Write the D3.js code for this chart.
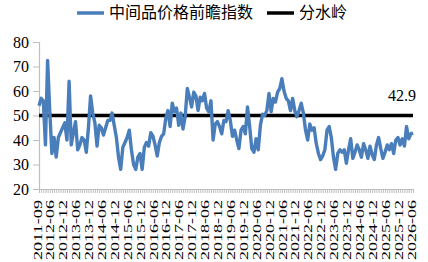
<!DOCTYPE html>
<html>
<head>
<meta charset="utf-8">
<script src="https://cdn.jsdelivr.net/npm/d3@7"></script>
<style>
body{margin:0;background:#fff;}
svg{display:block;}
svg text.tnr{font-family:"Times New Roman","Liberation Serif",Tinos,serif;}
</style>
</head>
<body>
<svg id="chart" width="428" height="262"></svg>
<script>
// categories: first point 2011-09, then monthly from 2012-01 to 2026-06
var months=["2011-09"].concat(d3.timeMonth.range(new Date(2012,0,1),new Date(2026,6,1)).map(d3.timeFormat("%Y-%m")));

var tickLabels=["2011-09","2012-06","2012-12","2013-06","2013-12","2014-06","2014-12","2015-06","2015-12",
 "2016-06","2016-12","2017-06","2017-12","2018-06","2018-12","2019-06","2019-12","2020-06","2020-12",
 "2021-06","2021-12","2022-06","2022-12","2023-06","2023-12","2024-06","2024-12","2025-06","2025-12","2026-06"];

var yTicks=[20,30,40,50,60,70,80];

// 中间品价格前瞻指数
var index=[54,57,56,38,72.5,52,34.5,41,33,41,43,45,47,40,64,38,43,47.5,36,38,
 41,40,35,45,58,51,47,37.5,46,45,42,45,48,48,51,46,41,33,28,37,
 39,41,44,36,30,28,33,34.5,28,37,39,37.5,43,41.6,38,33.5,39,41.5,42.5,49,
 52,45.5,55,51.6,53,46,51,44.5,49.5,61,57.5,53.5,59.5,58,52,57.5,56,59,53,51.5,
 56,40,46.5,47.5,45.5,42.5,48,47.5,52,48,41.5,44,40,36.5,44,45.5,42.5,53.5,45.5,36.5,
 35,40.5,36,46,50.5,50,52,59,51.5,57,55.5,59.5,61,65,60,57,56,52,57,52,
 49.5,52,55,51,44,40,46.5,44,45,38.5,34.5,32,33.5,36,44,45.5,41,33,28,34.5,
 36,35,36,30.5,36,40.5,32.5,35,38,36,33,38.5,36,32.5,37.5,34,32,38,41,36.5,
 32.5,35,38,36,38.5,34.5,40,41,38,40.5,37.5,45.5,40.5,42.5,42.9];

var watershed=50;
var lastLabel="42.9";

var svg=d3.select("#chart");
var plotL=39,plotR=413,plotT=42,plotB=189;

var x=d3.scalePoint().domain(months).range([plotL,plotR]);
var y=d3.scaleLinear().domain([20,80]).range([plotB,plotT]);

var axisColor="#bfbfbf";

// y axis
var ya=svg.append("g").attr("transform","translate("+plotL+",0)")
 .call(d3.axisLeft(y).tickValues(yTicks).tickSize(6).tickPadding(4).tickFormat(d3.format("d")));
ya.attr("font-family",null).attr("font-size",16);
ya.select(".domain").attr("stroke",axisColor).attr("stroke-width",1.2);
ya.selectAll(".tick line").attr("stroke",axisColor);
ya.selectAll("text").classed("tnr",true).attr("fill","#000");

// x axis
var xa=svg.append("g").attr("transform","translate(0,"+plotB+")")
 .call(d3.axisBottom(x).tickSize(4).tickSizeOuter(0).tickFormat(function(d){return tickLabels.indexOf(d)>=0?d:"";}));
xa.attr("font-family",null).attr("font-size",13);
xa.select(".domain").attr("stroke",axisColor).attr("stroke-width",1.2);
xa.selectAll(".tick line").attr("stroke",axisColor);
xa.selectAll("text")
 .classed("tnr",true)
 .attr("fill","#000")
 .attr("text-anchor","end")
 .attr("dy",null)
 .attr("transform","translate(2,11) rotate(-90)")
 .attr("x",0).attr("y",0)
 .each(function(d){ if(tickLabels.indexOf(d)>=0){ d3.select(this).attr("textLength",60).attr("lengthAdjust","spacingAndGlyphs"); } });

// 分水岭
svg.append("line")
 .attr("x1",x(months[0])).attr("x2",x(months[months.length-1]))
 .attr("y1",y(watershed)).attr("y2",y(watershed))
 .attr("stroke","#000").attr("stroke-width",3.5);

// index line
var line=d3.line().x(function(d,i){return x(months[i]);}).y(function(d){return y(d);});
svg.append("path").datum(index)
 .attr("d",line).attr("fill","none")
 .attr("stroke","#4a7ebb").attr("stroke-width",3.4).attr("stroke-linejoin","round");

// last value label
svg.append("text").classed("tnr",true)
 .attr("x",416).attr("y",101)
 .attr("text-anchor","end")
 .attr("font-size",16)
 .text(lastLabel);

// legend
var legend=[{name:"中间品价格前瞻指数",color:"#4a7ebb",x:77},{name:"分水岭",color:"#000",x:267}];
var lg=svg.append("g");
lg.selectAll("line").data(legend).enter().append("line")
 .attr("x1",function(d){return d.x;}).attr("x2",function(d){return d.x+27;})
 .attr("y1",13).attr("y2",13)
 .attr("stroke",function(d){return d.color;}).attr("stroke-width",3.5);
lg.selectAll("text").data(legend).enter().append("text")
 .attr("x",function(d){return d.x+32;}).attr("y",18)
 .attr("font-family","Noto Sans CJK SC, sans-serif").attr("font-size",16)
 .text(function(d){return d.name;});
</script>
</body>
</html>
